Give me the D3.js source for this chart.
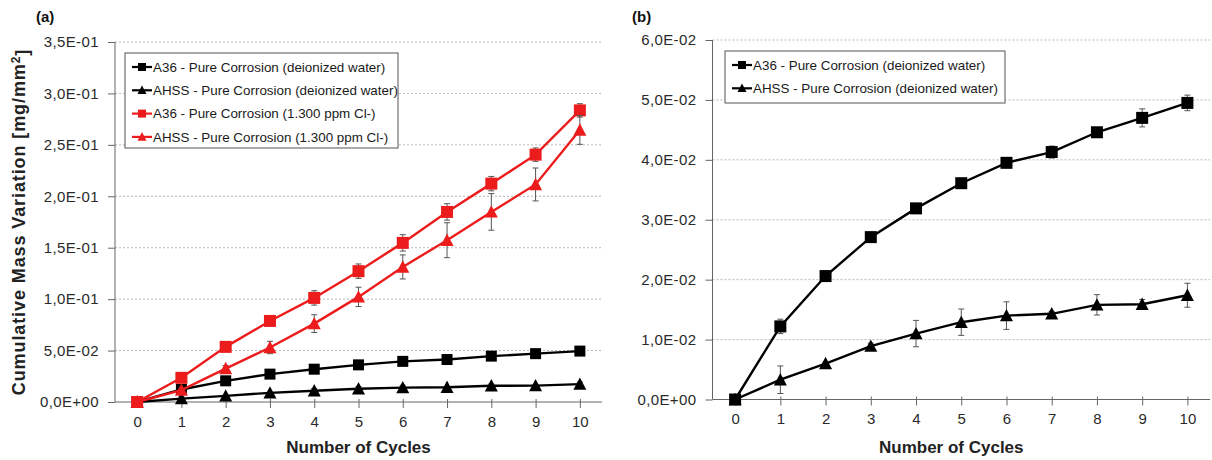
<!DOCTYPE html>
<html>
<head>
<meta charset="utf-8">
<script src="https://cdn.jsdelivr.net/npm/d3@7"></script>
<style>
  body { margin: 0; background: #fff; }
  svg { display: block; font-family: "Liberation Sans", Arial, sans-serif; }
</style>
</head>
<body>
<div id="chart"></div>
<script>
// cycles on the x axis
var cycles = [0, 1, 2, 3, 4, 5, 6, 7, 8, 9, 10];

// deionized water series (same data in both panels)
var a36Water    = [0, 0.0122, 0.0206, 0.0271, 0.0319, 0.0361, 0.0395, 0.0413, 0.0446, 0.0470, 0.0495];
var a36WaterErr = [0, 0.0012, 0.0005, 0.0005, 0.0005, 0.0005, 0.0008, 0.0010, 0.0007, 0.0015, 0.0013];
var ahssWater    = [0, 0.0033, 0.0060, 0.0089, 0.0110, 0.0129, 0.0140, 0.0143, 0.0158, 0.0159, 0.0174];
var ahssWaterErr = [0, 0.0023, 0.0003, 0.0005, 0.0022, 0.0022, 0.0023, 0.0004, 0.0017, 0.0008, 0.0020];

// 1.300 ppm Cl- series (panel a only)
var a36Cl    = [0, 0.0235, 0.0536, 0.0788, 0.1012, 0.1272, 0.1547, 0.1848, 0.2123, 0.2405, 0.2835];
var a36ClErr = [0, 0.002, 0.002, 0.002, 0.007, 0.007, 0.008, 0.008, 0.007, 0.0065, 0.0065];
var ahssCl    = [0, 0.0115, 0.0325, 0.0530, 0.0762, 0.1022, 0.1313, 0.1573, 0.1848, 0.2115, 0.2645];
var ahssClErr = [0, 0.002, 0.003, 0.006, 0.0086, 0.0094, 0.0117, 0.017, 0.0178, 0.016, 0.014];

// y tick values
var yTicksA = [0, 0.05, 0.10, 0.15, 0.20, 0.25, 0.30, 0.35];
var yTicksB = [0, 0.01, 0.02, 0.03, 0.04, 0.05, 0.06];

var labelA36W  = "A36 - Pure Corrosion (deionized water)";
var labelAhssW = "AHSS - Pure Corrosion (deionized water)";
var labelA36C  = "A36 -  Pure Corrosion (1.300 ppm Cl-)";
var labelAhssC = "AHSS - Pure Corrosion (1.300 ppm Cl-)";

var RED = "#ec1c1c";

var svg = d3.select("#chart").append("svg")
    .attr("width", 1212)
    .attr("height", 460);

// excel-ish scientific format with comma decimal, e.g. 3,5E-01
function sci(v) {
    if (v === 0) return "0,0E+00";
    var e = Math.floor(Math.log10(v) + 1e-9);
    var m = v / Math.pow(10, e);
    var s = m.toFixed(1).replace(".", ",");
    return s + "E" + (e < 0 ? "-" : "+") + String(Math.abs(e)).padStart(2, "0");
}

function marker(sel, shape, size, color) {
    if (shape == "square") {
        sel.append("rect")
            .attr("x", -size / 2).attr("y", -size / 2)
            .attr("width", size).attr("height", size)
            .attr("fill", color);
    } else {
        var h = size * 0.95;
        sel.append("path")
            .attr("d", "M0," + (-h / 2 - 1) + "L" + (size / 2 + 0.5) + "," + (h / 2) + "L" + (-size / 2 - 0.5) + "," + (h / 2) + "Z")
            .attr("fill", color);
    }
}

function drawPanel(p) {
    var g = svg.append("g");
    var x = d3.scalePoint().domain(cycles).range([p.left, p.right]).padding(0.5);
    var y = d3.scaleLinear().domain([0, p.yMax]).range([p.bottom, p.top]);

    // gridlines
    g.selectAll(".grid").data(p.yTicks.filter(function(d){ return d > 0; }))
        .enter().append("line")
        .attr("x1", p.left).attr("x2", p.right)
        .attr("y1", function(d){ return y(d); }).attr("y2", function(d){ return y(d); })
        .attr("stroke", "#b8b8b8").attr("stroke-dasharray", "2,2").attr("stroke-width", 1);

    // y axis
    var yAxis = d3.axisLeft(y).tickValues(p.yTicks).tickFormat(sci).tickSize(7).tickPadding(9);
    var ya = g.append("g").attr("transform", "translate(" + p.left + ",0)").call(yAxis);
    ya.select(".domain").attr("stroke", "#666").attr("d", "M0," + p.top + "V" + p.bottom);
    ya.selectAll(".tick line").attr("stroke", "#666");
    ya.selectAll(".tick text").attr("fill", "#2a2a2a").style("font-size", "15px")
        .style("letter-spacing", "0.4px").style("font-family", "Liberation Sans, Arial, sans-serif");

    // x axis
    var xAxis = d3.axisBottom(x).tickSize(6).tickPadding(8);
    var xa = g.append("g").attr("transform", "translate(0," + p.bottom + ")").call(xAxis);
    xa.select(".domain").attr("stroke", "#666").attr("d", "M" + p.left + ",0H" + p.right);
    xa.selectAll(".tick line").attr("stroke", "#666").attr("y1", -3);
    xa.selectAll(".tick text").attr("fill", "#2a2a2a").style("font-size", "15px")
        .style("font-family", "Liberation Sans, Arial, sans-serif");

    // series
    p.series.forEach(function(s) {
        var pts = cycles.map(function(c, i){ return {c: c, v: s.values[i], e: s.err[i]}; });
        g.append("path").datum(pts)
            .attr("d", d3.line().x(function(d){ return x(d.c); }).y(function(d){ return y(d.v); }))
            .attr("fill", "none").attr("stroke", s.color).attr("stroke-width", 2.4);

        var eb = g.append("g").selectAll("g").data(pts.filter(function(d){ return d.e > 0; }))
            .enter().append("g").attr("stroke", "#555").attr("stroke-width", 1);
        eb.append("line")
            .attr("x1", function(d){ return x(d.c); }).attr("x2", function(d){ return x(d.c); })
            .attr("y1", function(d){ return y(d.v + d.e); }).attr("y2", function(d){ return y(d.v - d.e); });
        eb.append("line")
            .attr("x1", function(d){ return x(d.c) - 3; }).attr("x2", function(d){ return x(d.c) + 3; })
            .attr("y1", function(d){ return y(d.v + d.e); }).attr("y2", function(d){ return y(d.v + d.e); });
        eb.append("line")
            .attr("x1", function(d){ return x(d.c) - 3; }).attr("x2", function(d){ return x(d.c) + 3; })
            .attr("y1", function(d){ return y(d.v - d.e); }).attr("y2", function(d){ return y(d.v - d.e); });

        g.append("g").selectAll("g").data(pts).enter().append("g")
            .attr("transform", function(d){ return "translate(" + x(d.c) + "," + y(d.v) + ")"; })
            .each(function(){ marker(d3.select(this), s.shape, s.size, s.color); });
    });

    // legend
    var lg = g.append("g");
    lg.append("rect")
        .attr("x", p.legend.x).attr("y", p.legend.y)
        .attr("width", p.legend.w).attr("height", p.legend.h)
        .attr("fill", "#fff").attr("stroke", "#555").attr("stroke-width", 1);
    p.series.forEach(function(s, i) {
        var ly = p.legend.y + 14 + i * 23.3;
        var lx = p.legend.x + 7;
        lg.append("line").attr("x1", lx).attr("x2", lx + 20).attr("y1", ly).attr("y2", ly)
            .attr("stroke", s.color).attr("stroke-width", 2.2);
        var m = lg.append("g").attr("transform", "translate(" + (lx + 10) + "," + ly + ")");
        marker(m, s.shape, 8, s.color);
        lg.append("text").attr("x", lx + 21).attr("y", ly).attr("dy", "0.35em")
            .style("font-size", "13.4px").attr("fill", "#1a1a1a").text(s.label);
    });

    // panel tag
    g.append("text").attr("x", p.tagX).attr("y", 22)
        .style("font-size", "15px").style("font-weight", "bold").attr("fill", "#111").text(p.tag);

    // x axis title
    g.append("text").attr("x", (p.left + p.right) / 2 + p.xTitleShift).attr("y", 453)
        .attr("text-anchor", "middle").style("font-size", "17px").style("font-weight", "bold")
        .attr("fill", "#222").text("Number of Cycles");
}

drawPanel({
    tag: "(a)", tagX: 36,
    left: 115, right: 602, top: 42, bottom: 402, yMax: 0.35, yTicks: yTicksA,
    xTitleShift: 0,
    legend: {x: 125, y: 53, w: 273, h: 95},
    series: [
        {label: labelA36W,  values: a36Water,  err: a36WaterErr,  color: "#000", shape: "square",   size: 11},
        {label: labelAhssW, values: ahssWater, err: ahssWaterErr, color: "#000", shape: "triangle", size: 12},
        {label: labelA36C,  values: a36Cl,     err: a36ClErr,     color: RED,    shape: "square",   size: 12},
        {label: labelAhssC, values: ahssCl,    err: ahssClErr,    color: RED,    shape: "triangle", size: 12}
    ]
});

drawPanel({
    tag: "(b)", tagX: 632,
    left: 712.5, right: 1210, top: 40, bottom: 399.5, yMax: 0.06, yTicks: yTicksB,
    xTitleShift: -10,
    legend: {x: 725, y: 51, w: 280, h: 52},
    series: [
        {label: labelA36W,  values: a36Water,  err: a36WaterErr,  color: "#000", shape: "square",   size: 12},
        {label: labelAhssW, values: ahssWater, err: ahssWaterErr, color: "#000", shape: "triangle", size: 12}
    ]
});

// shared y axis title (left panel)
svg.append("text")
    .attr("transform", "translate(25,222) rotate(-90)")
    .attr("text-anchor", "middle")
    .style("font-size", "18px").style("font-weight", "bold").style("letter-spacing", "0.9px")
    .attr("fill", "#222")
    .text("Cumulative Mass Variation [mg/mm")
    .append("tspan").attr("dy", "-0.45em").style("font-size", "12px").text("2")
    .select(function(){ return this.parentNode; })
    .append("tspan").attr("dy", "0.45em").text("]");
</script>
</body>
</html>
